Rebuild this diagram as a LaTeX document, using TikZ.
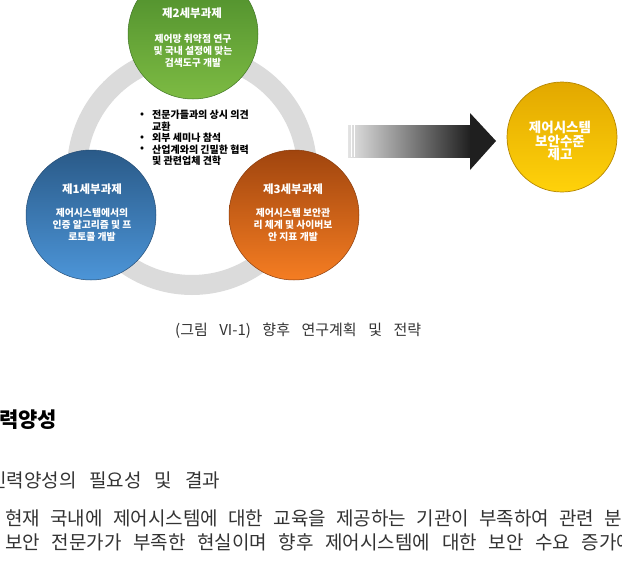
\documentclass[tikz,border=0pt]{standalone}
\usepackage{fontspec}
\newfontfamily\kr{Noto Sans CJK KR}
\definecolor{gTop}{HTML}{4A8A2A}
\definecolor{gBot}{HTML}{7DBB43}
\definecolor{bTop}{HTML}{2A5A88}
\definecolor{bBot}{HTML}{4C95D8}
\definecolor{oTop}{HTML}{A0450E}
\definecolor{oBot}{HTML}{F57D22}
\definecolor{yTop}{HTML}{E2A800}
\definecolor{yBot}{HTML}{FFD20A}
\definecolor{ringgray}{HTML}{DBDBDB}
\definecolor{bodytext}{HTML}{333333}
\tikzset{
  ball/.style={circle, minimum size=130pt, inner sep=0pt},
  ttl/.style={text=white, font=\kr\bfseries\fontsize{11.5}{12}\selectfont, inner sep=0pt},
  bdy/.style={text=white, font=\kr\bfseries\fontsize{9.8}{12}\selectfont, align=center, inner sep=0pt},
  blt/.style={text=black, font=\kr\bfseries\fontsize{10}{11}\selectfont, anchor=west, inner sep=0pt},
  para/.style={text=bodytext, font=\kr\fontsize{19}{21}\selectfont, anchor=west, inner sep=0pt},
}
\begin{document}
\begin{tikzpicture}[x=1pt,y=-1pt]
\useasboundingbox (0,0) rectangle (622,565);
\clip (0,0) rectangle (622,565);
% ring
\node[circle, minimum size=230pt, inner sep=0pt, draw=ringgray, line width=20pt] (ring) at (192,170) {};
% circles
\node[ball, top color=gTop, bottom color=gBot, draw=gTop!85!black, line width=0.5pt] (s2) at (193,34) {};
\node[ball, top color=bTop, bottom color=bBot, draw=bTop!85!black, line width=0.5pt] (s1) at (91,215) {};
\node[ball, top color=oTop, bottom color=oBot, draw=oTop!85!black, line width=0.5pt] (s3) at (294,215) {};
\node[circle, minimum size=110pt, inner sep=0pt, top color=yTop, bottom color=yBot, draw=yTop!80!black, line width=0.7pt] (goal) at (562,137) {};
% circle texts
\node[ttl] (t2) at (192,13) {제2세부과제};
\node[bdy] (b2) at (193,51) {제어망 취약점 연구\\및 국내 설정에 맞는\\검색도구 개발};
\node[ttl] (t1) at (92,189) {제1세부과제};
\node[bdy] (b1) at (92,225) {제어시스템에서의\\인증 알고리즘 및 프\\로토콜 개발};
\node[ttl] (t3) at (293,189) {제3세부과제};
\node[bdy] (b3) at (293,225) {제어시스템 보안관\\리 체계 및 사이버보\\안 지표 개발};
\node[text=white, font=\kr\bfseries\fontsize{13.5}{13.5}\selectfont, align=center, inner sep=0pt] (g) at (560,141) {제어시스템\\보안수준\\제고};
% bullets
\node[blt] (l1) at (152,115) {전문가들과의 상시 의견};
\node[blt] (l2) at (152,126.5) {교환};
\node[blt] (l3) at (152,138) {외부 세미나 참석};
\node[blt] (l4) at (152,149.5) {산업계와의 긴밀한 협력};
\node[blt] (l5) at (152,161) {및 관련업체 견학};
\node[blt] (d1) at (140,115) {•};
\node[blt] (d3) at (140,138) {•};
\node[blt] (d4) at (140,149.5) {•};
% arrow
\path[left color=gray!22, right color=black!88, shading=axis] (348,125) rectangle (471,157);
\fill[black!88] (470,113) -- (496,141) -- (470,170) -- cycle;
\draw[white, line width=0.8pt] (351,125) -- (351,157);
\draw[white, line width=0.8pt] (354,125) -- (354,157);
% caption
\node[text=bodytext, font=\kr\fontsize{15}{16}\selectfont, anchor=west, inner sep=0pt] (cap) at (175,331) {\makebox[246pt][s]{(그림 VI-1) 향후 연구계획 및 전략}};
% text below
\node[text=black, font=\kr\bfseries\fontsize{21}{22}\selectfont, anchor=west, inner sep=0pt] (h) at (-1,420) {력양성};
\node[para] (p1) at (-11,480) {\makebox[231pt][s]{인력양성의 필요성 및 결과}};
\node[para] (p2) at (5,518) {\makebox[617pt][s]{현재 국내에 제어시스템에 대한 교육을 제공하는 기관이 부족하여 관련 분}};
\node[para] (p3) at (5,542) {\makebox[629pt][s]{보안 전문가가 부족한 현실이며 향후 제어시스템에 대한 보안 수요 증가에}};
\end{tikzpicture}
\end{document}
